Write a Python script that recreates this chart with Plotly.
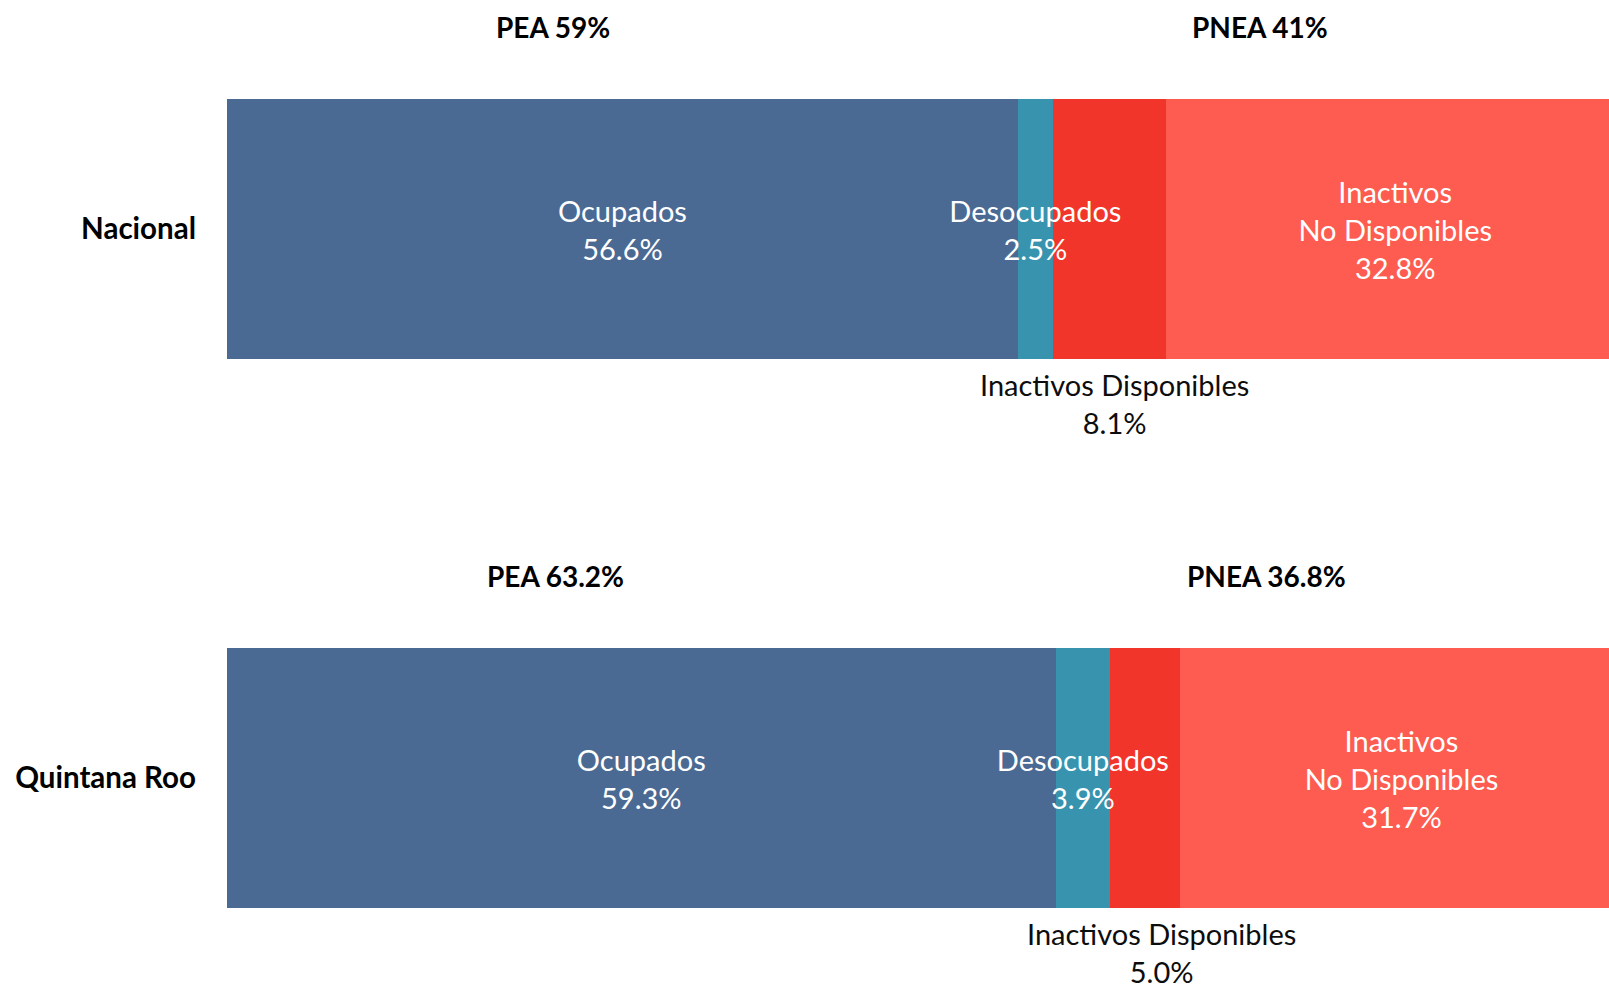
import plotly.graph_objects as go

# ---- data ----
categories = ["Nacional", "Quintana Roo"]
series_names = ["Ocupados", "Desocupados", "Inactivos Disponibles", "Inactivos No Disponibles"]
ocupados = [56.6, 59.3]
desocupados = [2.5, 3.9]
inactivos_disp = [8.1, 5.0]
inactivos_no_disp = [32.8, 31.7]
pea_labels = ["PEA 59%", "PEA 63.2%"]
pnea_labels = ["PNEA 41%", "PNEA 36.8%"]

# ---- styles ----
colors = ["#4A6A94", "#3894AE", "#F2352A", "#FE5C50"]
label_names = ["Ocupados", "Desocupados", "Inactivos Disponibles", "Inactivos<br>No Disponibles"]
FONT = "Lato, 'Open Sans', sans-serif"
ypos = list(range(len(categories)))
bar_width = 0.474
below_label_xshift = [5, 16]  # pixel nudges of the labels placed under the bars

series = [ocupados, desocupados, inactivos_disp, inactivos_no_disp]

fig = go.Figure()
for name, vals, col in zip(series_names, series, colors):
    fig.add_trace(go.Bar(
        y=ypos, x=vals, name=name, orientation="h",
        marker=dict(color=col, line=dict(width=0)),
        width=bar_width, hoverinfo="skip", showlegend=False,
    ))

annotations = []
# segment labels computed from the cumulative values
for i, cat in enumerate(categories):
    start = 0.0
    for k, vals in enumerate(series):
        v = vals[i]
        mid = start + v / 2
        start += v
        txt = f"{label_names[k]}<br>{v:.1f}%"
        if k == 2:  # label below the bar
            annotations.append(dict(
                x=mid, y=ypos[i] + 0.318, xref="x", yref="y", text=txt,
                showarrow=False, xanchor="center", yanchor="middle",
                xshift=below_label_xshift[i],
                font=dict(family=FONT, size=29, color="#0D0D0D"),
            ))
        else:
            fig.add_trace(go.Scatter(
                x=[mid], y=[ypos[i] + 0.009], mode="text", text=[txt],
                textposition="middle center",
                textfont=dict(family=FONT, size=29, color="white"),
                hoverinfo="skip", showlegend=False, cliponaxis=False,
            ))

# PEA / PNEA headers
pea_x = [23.3, 23.5]
pnea_x = [73.9, 74.4]
for i in range(len(categories)):
    for xx, t in ((pea_x[i], pea_labels[i]), (pnea_x[i], pnea_labels[i])):
        annotations.append(dict(
            x=xx, y=ypos[i] - 0.367, xref="x", yref="y", text=t, showarrow=False,
            font=dict(family=FONT, size=28, color="black", weight="bold"),
            xanchor="center", yanchor="middle",
        ))

fig.update_layout(
    width=1609, height=987,
    margin=dict(l=227, r=0, t=0, b=0),
    barmode="stack",
    plot_bgcolor="white", paper_bgcolor="white",
    annotations=annotations,
    xaxis=dict(range=[0, 98.9], visible=False, showgrid=False, zeroline=False, fixedrange=True),
    yaxis=dict(range=[1.381, -0.417], tickvals=ypos, ticktext=categories,
               showgrid=False, zeroline=False, showline=False, ticks="",
               ticklabelstandoff=30,
               tickfont=dict(family=FONT, size=29.5, color="black", weight="bold"),
               fixedrange=True),
)

fig.write_html(
    "out.html",
    config={"displayModeBar": False},
    post_script="document.body.style.margin='0';document.body.style.overflow='hidden';",
)
